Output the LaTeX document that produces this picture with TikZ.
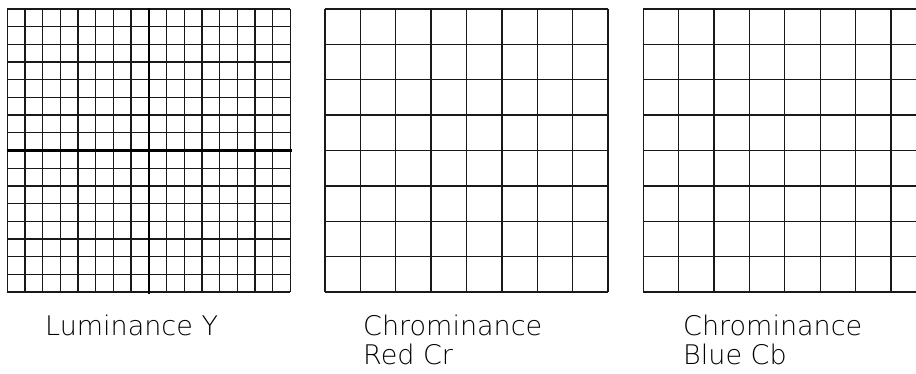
\documentclass[tikz,border=0pt]{standalone}
\usepackage{fontspec}
\newfontfamily\lblfont{DejaVu Sans ExtraLight}
\begin{document}
\begin{tikzpicture}[x=1pt,y=-1pt,
  gridline/.style={line width=1.3pt,color=black!90},
  axisline/.style={line width=2.2pt,color=black},
  lbl/.style={font=\lblfont\fontsize{27}{29}\selectfont,inner sep=0pt,anchor=base west}]
\useasboundingbox (0,0) rectangle (916,373);
\begin{scope}
\clip (0,0) rectangle (916,373);
% Luminance grid 16x16
\foreach \i in {0,...,16} {
  \draw[gridline] (7.3+\i*17.6875,9) -- (7.3+\i*17.6875,292);
  \draw[gridline] (7.3,9+\i*17.6875) -- (290.3,9+\i*17.6875);
}
\draw[axisline] (148.8,7.5) -- (148.8,293.5);
\draw[axisline] (6.5,150.5) -- (292,150.5);
% Chrominance Red grid 8x8
\foreach \i in {0,...,8} {
  \draw[gridline] (325+\i*35.375,9) -- (325+\i*35.375,292);
  \draw[gridline] (325,9+\i*35.375) -- (608,9+\i*35.375);
}
% Chrominance Blue grid 8x8 (clipped)
\foreach \i in {0,...,8} {
  \draw[gridline] (643.3+\i*35.375,9) -- (643.3+\i*35.375,292);
  \draw[gridline] (643.3,9+\i*35.375) -- (926.3,9+\i*35.375);
}
\end{scope}
\node[lbl] (lum) at (45,335) {Luminance Y};
\node[lbl] (cr1) at (363,335) {Chrominance};
\node[lbl] (cr2) at (363,364) {Red Cr};
\node[lbl] (cb1) at (683,335) {Chrominance};
\node[lbl] (cb2) at (683,364) {Blue Cb};
\end{tikzpicture}
\end{document}
